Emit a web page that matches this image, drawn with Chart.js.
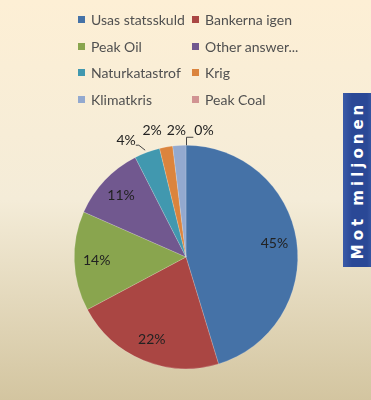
<!DOCTYPE html>
<html lang="sv">
<head>
<meta charset="UTF-8">
<title>Mot miljonen</title>
<script src="https://cdn.jsdelivr.net/npm/chart.js"></script>
<style>
    body {
        margin: 0;
        font-family: Lato, "Open Sans", sans-serif;
    }
    #wrap {
        position: relative;
        width: 371px;
        height: 400px;
        overflow: hidden;
        background: linear-gradient(#fdefd5 0%, #f4ecd8 50%, #d3c5a0 100%);
    }
    #pie {
        position: absolute;
        left: 0;
        top: 0;
    }
    #legend {
        position: absolute;
        left: 78px;
        top: 6px;
        display: grid;
        grid-template-columns: 114px 130px;
        grid-auto-rows: 26.7px;
        font-size: 14px;
        color: #505050;
    }
    #legend div {
        display: flex;
        align-items: center;
    }
    #legend span.box {
        width: 7px;
        height: 7px;
        margin-right: 6px;
        flex: none;
    }
    #tag {
        position: absolute;
        left: 343px;
        top: 93px;
        width: 30px;
        height: 174px;
        background: linear-gradient(90deg, #3a5aa8, #2a4896 30%, #2a4896 80%, #3b5aa6);
    }
    #tag span {
        position: absolute;
        left: 50%;
        top: 50%;
        transform: translate(-50%, -50%) rotate(-90deg);
        white-space: nowrap;
        color: #fff;
        font: bold 15px "DejaVu Sans", sans-serif;
        letter-spacing: 4px;
    }
</style>
</head>
<body>
<div id="wrap">
    <canvas id="pie" width="371" height="400"></canvas>
    <div id="legend"></div>
    <div id="tag"><span>Mot miljonen</span></div>
</div>
<script>
    // answers and their share of votes (%)
    const answers = ['Usas statsskuld', 'Bankerna igen', 'Peak Oil', 'Other answer...',
        'Naturkatastrof', 'Krig', 'Klimatkris', 'Peak Coal'];
    const shares = [45.3, 21.9, 14.4, 10.9, 3.7, 1.9, 1.9, 0];
    const colors = ['#4572a7', '#aa4643', '#89a54e', '#71588f',
        '#4198af', '#db843d', '#93a9cf', '#d19392'];

    // legend, two columns
    const legend = document.getElementById('legend');
    answers.forEach((name, i) => {
        const item = document.createElement('div');
        item.innerHTML = '<span class="box" style="background:' + colors[i] + '"></span>' + name;
        legend.appendChild(item);
    });

    // where the small slices put their label (offset from the arc edge)
    const outside = {
        4: { dx: -21, dy: -12, leader: 'left' },
        5: { dx: -14, dy: -17 },
        6: { dx: -3, dy: -15 },
        7: { dx: 18, dy: -15, leader: 'up' }
    };

    const pctLabels = {
        id: 'pctLabels',
        afterDatasetsDraw(chart) {
            const ctx = chart.ctx;
            const meta = chart.getDatasetMeta(0);
            ctx.save();
            ctx.font = '14px Lato, sans-serif';
            ctx.fillStyle = '#222';
            ctx.strokeStyle = '#444';
            ctx.lineWidth = 1;
            ctx.textAlign = 'center';
            ctx.textBaseline = 'middle';
            meta.data.forEach((arc, i) => {
                const txt = Math.round(shares[i]) + '%';
                const mid = (arc.startAngle + arc.endAngle) / 2;
                const r = arc.outerRadius;
                if (!outside[i]) {
                    ctx.fillText(txt, arc.x + Math.cos(mid) * r * 0.8, arc.y + Math.sin(mid) * r * 0.8);
                    return;
                }
                const ax = arc.x + Math.cos(mid) * r;
                const ay = arc.y + Math.sin(mid) * r;
                const o = outside[i];
                const tx = ax + o.dx, ty = ay + o.dy;
                ctx.fillText(txt, tx, ty);
                const w = ctx.measureText(txt).width;
                ctx.beginPath();
                if (o.leader === 'left') {
                    ctx.moveTo(ax - 2, ay - 2);
                    ctx.lineTo(tx + w / 2 + 3, ty + 5);
                    ctx.lineTo(tx + w / 2, ty + 5);
                    ctx.stroke();
                } else if (o.leader === 'up') {
                    ctx.moveTo(ax + 0.5, ay);
                    ctx.lineTo(ax + 0.5, ty + 7);
                    ctx.lineTo(tx - w / 2 - 1, ty + 7);
                    ctx.stroke();
                }
            });
            ctx.restore();
        }
    };

    new Chart(document.getElementById('pie'), {
        type: 'pie',
        data: {
            labels: answers,
            datasets: [{
                data: shares,
                backgroundColor: colors,
                borderColor: 'rgba(255,255,255,0.35)',
                borderWidth: 0.5
            }]
        },
        options: {
            responsive: false,
            animation: false,
            layout: { padding: { left: 74, right: 73, top: 145, bottom: 31 } },
            plugins: {
                legend: { display: false },
                tooltip: { enabled: false }
            }
        },
        plugins: [pctLabels]
    });
</script>
</body>
</html>
